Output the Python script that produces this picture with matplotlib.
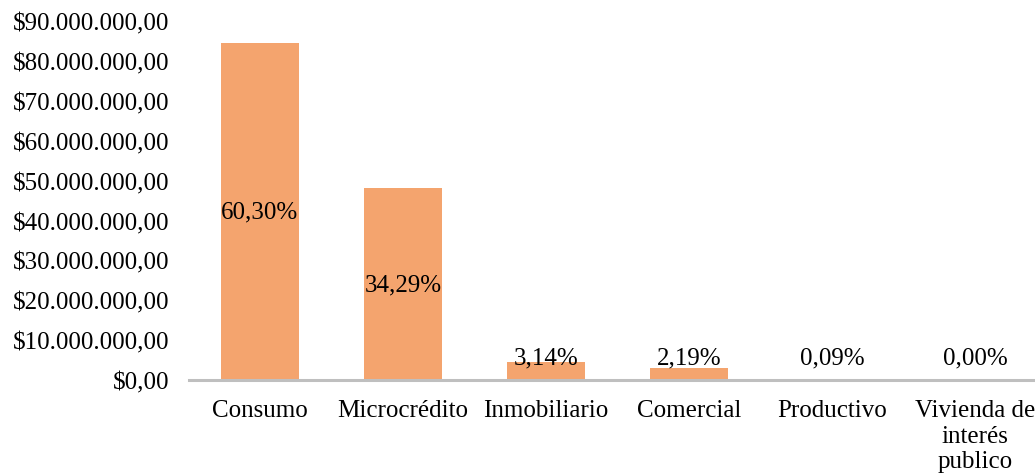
import matplotlib.pyplot as plt
from matplotlib.ticker import FuncFormatter

categorias = ['Consumo', 'Microcrédito', 'Inmobiliario', 'Comercial',
              'Productivo', 'Vivienda de\ninterés\npublico']
porcentajes = [60.30, 34.29, 3.14, 2.19, 0.09, 0.00]
total_cartera = 140_100_000

montos = [total_cartera * p / 100 for p in porcentajes]

plt.rcParams['font.family'] = ['Liberation Serif', 'DejaVu Serif']
plt.rcParams['font.size'] = 18

fig = plt.figure(figsize=(10.35, 4.77), dpi=100)
ax = fig.add_axes([188.5 / 1035, 96 / 477, 858 / 1035, 359 / 477])

x = range(len(categorias))
ax.bar(x, montos, width=0.55, color='#F4A46E', zorder=2)

def pesos(v, pos):
    s = f'{v:,.2f}'
    s = s.replace(',', 'X').replace('.', ',').replace('X', '.')
    return '$' + s

ax.set_ylim(0, 90_000_000)
ax.set_yticks(range(0, 90_000_001, 10_000_000))
ax.yaxis.set_major_formatter(FuncFormatter(pesos))
ax.set_xlim(-0.5, len(categorias) - 0.5)
ax.set_xticks(list(x))
ax.set_xticklabels(categorias, linespacing=1.2)

for s in ['top', 'right', 'left']:
    ax.spines[s].set_visible(False)
ax.spines['bottom'].set_color('#BFBFBF')
ax.spines['bottom'].set_linewidth(2.2)
ax.tick_params(axis='both', length=0)
ax.tick_params(axis='y', pad=14)
ax.tick_params(axis='x', pad=14)

for i, (m, p) in enumerate(zip(montos, porcentajes)):
    etiqueta = f'{p:.2f}%'.replace('.', ',')
    if m > 20_000_000:
        ax.text(i, m / 2, etiqueta, ha='center', va='center')
    else:
        ax.annotate(etiqueta, (i, 0), xytext=(0, 16), textcoords='offset points',
                    ha='center', va='center')

fig.savefig('out.png', dpi=100)
